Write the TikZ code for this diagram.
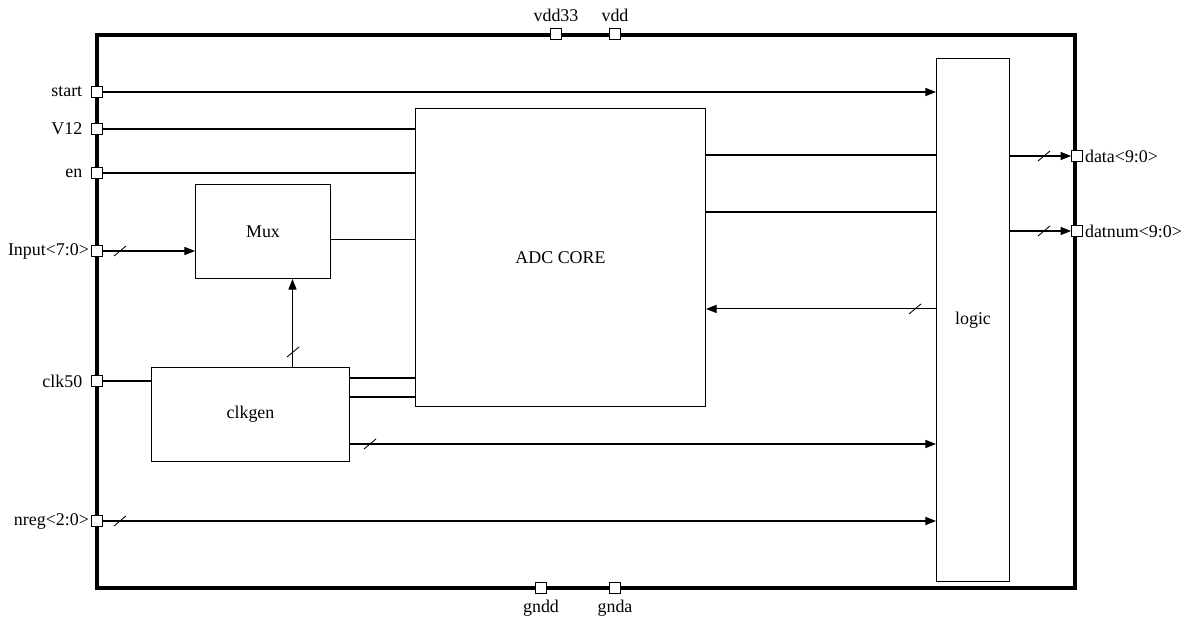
\documentclass[tikz,border=0pt]{standalone}
\usepackage{fontspec}
\setmainfont{Liberation Serif}
\usetikzlibrary{arrows.meta}
\tikzset{
  pin/.style={draw, fill=white, line width=.5pt, inner sep=0pt, minimum size=.22cm},
  blk/.style={draw, line width=.6pt, inner sep=0pt, anchor=north west},
  wire/.style={line width=.6pt},
}
% slash mark of a bus
\newcommand\busmark[1]{\draw[line width=.5pt] (#1) +(-6,5) -- +(6,-5);}
\begin{document}
\begin{tikzpicture}[x=.02cm, y=-.02cm, >={Triangle[length=6pt,width=4.6pt]},
  font=\fontsize{10.2}{12}\selectfont]
\useasboundingbox (0,0) rectangle (1197,621);
% chip outline
\draw[line width=1.8pt] (97,35) rectangle (1075,588);
% blocks
\node[blk, minimum width=2.7cm, minimum height=1.88cm] (mux) at (195,184) {Mux};
\node[blk, minimum width=5.8cm, minimum height=5.96cm] (adc) at (415,108) {ADC CORE};
\node[blk, minimum width=3.96cm, minimum height=1.88cm] (clk) at (151,367) {clkgen};
\node[blk, minimum width=1.46cm, minimum height=10.46cm] (logic) at (936,58) {logic};
% pins
\node[pin, label={[label distance=1.5pt]left:start}] (start) at (97,92) {};
\node[pin, label={[label distance=1.5pt]left:V12}] (v12) at (97,129) {};
\node[pin, label={[label distance=1.5pt]left:en}] (en) at (97,173) {};
\node[pin, label={[inner sep=1pt]left:Input<7:0>}] (inp) at (97,251) {};
\node[pin, label={[label distance=1.5pt]left:clk50}] (clkin) at (97,381) {};
\node[pin, label={[inner sep=1pt]left:nreg<2:0>}] (nreg) at (97,521) {};
\node[pin, label={above:vdd33}] (vddh) at (556,34) {};
\node[pin, label={above:vdd}] (vdd) at (615,34) {};
\node[pin, label={below:gndd}] (gndd) at (541,588) {};
\node[pin, label={below:gnda}] (gnda) at (615,588) {};
\node[pin, label={[inner sep=1pt]right:data<9:0>}] (data) at (1077,156) {};
\node[pin, label={[inner sep=1pt]right:datnum<9:0>}] (dnum) at (1077,231) {};
% inputs
\draw[wire,->] (start) -- (start -| logic.west);
\draw[wire] (v12) -- (v12 -| adc.west);
\draw[wire] (en) -- (en -| adc.west);
\draw[wire,->] (inp) -- (inp -| mux.west);
\draw[wire] (clkin) -- (clkin -| clk.west);
\draw[wire,->] (nreg) -- (nreg -| logic.west);
% internal
\draw[wire] ([yshift=-.16cm]mux.east) -- ([yshift=-.16cm]mux.east -| adc.west);
\draw[wire,->] ([xshift=.84cm]clk.north) -- ([xshift=.84cm]clk.north |- mux.south);
\draw[wire] ([yshift=-.22cm]clk.north east) -- ([yshift=-.22cm]clk.north east -| adc.west);
\draw[wire] ([yshift=-.6cm]clk.north east) -- ([yshift=-.6cm]clk.north east -| adc.west);
\draw[wire,->] ([yshift=-1.54cm]clk.north east) -- ([yshift=-1.54cm]clk.north east -| logic.west);
\draw[wire] ([yshift=-.94cm]adc.north east) -- ([yshift=-.94cm]adc.north east -| logic.west);
\draw[wire] ([yshift=-2.08cm]adc.north east) -- ([yshift=-2.08cm]adc.north east -| logic.west);
\draw[wire,<-] ([yshift=-4.02cm]adc.north east) -- ([yshift=-4.02cm]adc.north east -| logic.west);
% outputs
\draw[wire,->] (data -| logic.east) -- (data);
\draw[wire,->] (dnum -| logic.east) -- (dnum);
% bus marks
\foreach \p in {{120,251},{120,521},{293,352},{370,444},{915,309},{1044,156},{1044,231}}
  \busmark{\p};
\end{tikzpicture}
\end{document}
